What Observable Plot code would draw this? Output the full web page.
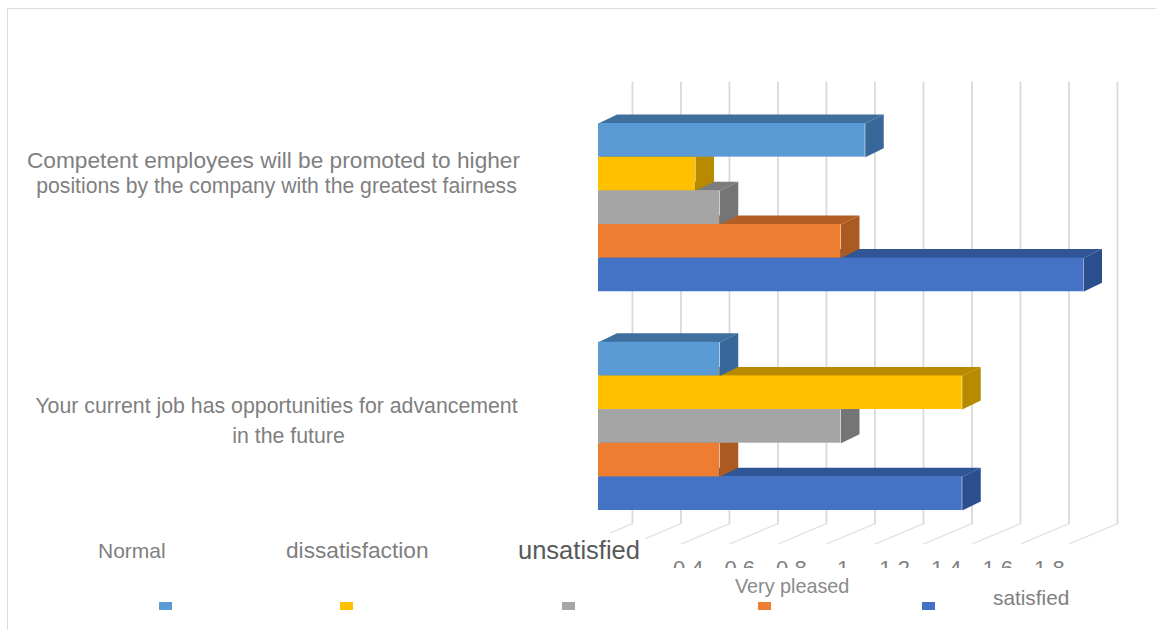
<!DOCTYPE html>
<html lang="en">
<head>
<meta charset="utf-8">
<title>Job satisfaction survey</title>
<script src="https://cdn.jsdelivr.net/npm/d3@7"></script>
<script src="https://cdn.jsdelivr.net/npm/@observablehq/plot@0.6"></script>
<style>
  html, body { margin: 0; padding: 0; background: #fff; }
  body { position: relative; width: 1156px; height: 630px; overflow: hidden; font-family: "Liberation Sans", Arial, sans-serif; }
  #sheet { position: absolute; left: 7px; top: 8px; right: 0; bottom: 0; border-left: 1px solid #dcdcdc; border-top: 1px solid #dcdcdc; }
  #chart { position: absolute; left: 0; top: 0; }
  #chart svg { display: block; }
  .legend-label { position: absolute; white-space: nowrap; line-height: 1; }
  .legend-swatch { position: absolute; width: 13px; height: 8px; }
</style>
</head>
<body>
<div id="sheet"></div>
<div id="chart"></div>
<script>
// Survey answers, one list per response, in the order [promotion fairness, advancement outlook].
const seriesNames = ["Normal", "dissatisfaction", "unsatisfied", "Very pleased", "satisfied"];
const normalValues = [1.1, 0.5];
const dissatisfactionValues = [0.4, 1.5];
const unsatisfiedValues = [0.5, 1];
const veryPleasedValues = [1, 0.5];
const satisfiedValues = [2, 1.5];
const seriesValues = [normalValues, dissatisfactionValues, unsatisfiedValues, veryPleasedValues, satisfiedValues];

const gridValues = [0, 0.2, 0.4, 0.6, 0.8, 1, 1.2, 1.4, 1.6, 1.8, 2];
const tickLabels = [0.4, 0.6, 0.8, 1, 1.2, 1.4, 1.6, 1.8];

const frontColors = ["#5B9BD5", "#FFC000", "#A5A5A5", "#ED7D31", "#4472C4"];
const topColors = ["#3F6F9C", "#B88A00", "#7C7C7C", "#B25E24", "#2F5597"];
const sideColors = ["#38689A", "#B88A00", "#757575", "#AB5A22", "#2B4F8E"];

const questionLines = [
  {text: "Competent employees will be promoted to higher", group: 0, dx: -325, dy: -47, size: 22.7},
  {text: "positions by the company with the greatest fairness", group: 0, dx: -322, dy: -21, size: 21.2},
  {text: "Your current job has opportunities for advancement", group: 1, dx: -322, dy: -20, size: 21.3},
  {text: "in the future", group: 1, dx: -310, dy: 10, size: 21.3}
];

// Slot position of a bar: each question holds five bars with a gap of 1.5 bars between questions.
const slotsPerGroup = 6.5;
const slot = (group, series) => group * slotsPerGroup + series;

// Oblique projection of the chart's depth, in x units and bar slots.
const barDepthX = 0.0763, barDepthY = -0.267;
const wallDepthX = 0.14;
const floorDepthX = -0.198, floorDepthY = 0.6;
const wallTop = -1.22, wallBottom = 11.89;

// The value labels lie on the near edge of the floor, which projects slightly wider than the bars.
const labelSpread = 15.5, labelShift = 2;

const marks = [];

// Back wall gridlines and their run across the floor.
marks.push(Plot.line(gridValues.flatMap(v => [
  {v, x: v + wallDepthX, y: wallTop},
  {v, x: v + wallDepthX, y: wallBottom}
]), {x: "x", y: "y", z: "v", stroke: "#dadada", strokeWidth: 1.8}));

marks.push(Plot.line(gridValues.flatMap(v => [
  {v, x: v + wallDepthX, y: wallBottom},
  {v, x: v + wallDepthX + floorDepthX, y: wallBottom + floorDepthY}
]), {x: "x", y: "y", z: "v", stroke: "#e3e4de", strokeWidth: 1.4}));

// Bars paint from the bottom up so each one overlaps the top face of the bar below it.
[0, 1].forEach(group => {
  for (let s = seriesValues.length - 1; s >= 0; s--) {
    const value = seriesValues[s][group];
    const y1 = slot(group, s), y2 = y1 + 1;
    const topFace = [
      {x: 0, y: y1},
      {x: barDepthX, y: y1 + barDepthY},
      {x: value + barDepthX, y: y1 + barDepthY},
      {x: value, y: y1}
    ];
    const sideFace = [
      {x: value, y: y1},
      {x: value + barDepthX, y: y1 + barDepthY},
      {x: value + barDepthX, y: y2 + barDepthY},
      {x: value, y: y2}
    ];
    marks.push(Plot.line(topFace, {x: "x", y: "y", curve: "linear-closed", fill: topColors[s], stroke: "none"}));
    marks.push(Plot.line(sideFace, {x: "x", y: "y", curve: "linear-closed", fill: sideColors[s], stroke: "none"}));
    marks.push(Plot.rect([{value, y1, y2}], {x1: 0, x2: "value", y1: "y1", y2: "y2", fill: frontColors[s]}));
  }
});

// Value labels sit right at the lower frame edge and are cut off by it.
tickLabels.forEach(v => {
  marks.push(Plot.text([v], {
    x: d => d,
    text: d => String(d),
    frameAnchor: "bottom",
    lineAnchor: "top",
    dx: (v - 1) * labelSpread + labelShift,
    dy: -8,
    fontSize: 22,
    fill: "#7f7f7f",
    clip: true
  }));
});

// Question captions, left of the bars.
questionLines.forEach(line => {
  marks.push(Plot.text([line.text], {
    y: () => slot(line.group, 2.5),
    text: d => d,
    frameAnchor: "left",
    textAnchor: "middle",
    dx: line.dx,
    dy: line.dy,
    fontSize: line.size,
    fill: "#7f7f7f"
  }));
});

const chart = Plot.plot({
  width: 1156,
  height: 630,
  marginLeft: 598,
  marginRight: 0,
  marginTop: 0,
  marginBottom: 62,
  style: {background: "transparent", fontFamily: '"Liberation Sans", Arial, sans-serif'},
  x: {domain: [0, 2], range: [598, 1083], axis: null},
  y: {domain: [0, 11.5], range: [123, 510], axis: null},
  marks
});
document.getElementById("chart").append(chart);

// Legend entries are scattered around the lower edge, with each swatch apart from its label.
const legendEntries = [
  {left: 98, top: 540, size: 21, color: "#7f7f7f", swatch: 159},
  {left: 286, top: 539, size: 22.7, color: "#7f7f7f", swatch: 340},
  {left: 518, top: 538, size: 25.5, color: "#595959", swatch: 562, backing: true},
  {left: 735, top: 577, size: 19.8, color: "#8a8a8a", swatch: 758},
  {left: 993, top: 588, size: 20.8, color: "#7f7f7f", swatch: 922}
];
legendEntries.forEach((entry, i) => {
  const label = document.createElement("div");
  label.className = "legend-label";
  label.textContent = seriesNames[i];
  label.style.cssText = `left:${entry.left}px;top:${entry.top}px;font-size:${entry.size}px;color:${entry.color}`;
  if (entry.backing) {
    // This label has a white plate that hides the floor lines behind it.
    label.style.top = `${entry.top - 5}px`;
    label.style.padding = "5px 5px 0 0";
    label.style.background = "#fff";
  }
  document.body.append(label);
  const swatch = document.createElement("div");
  swatch.className = "legend-swatch";
  swatch.style.cssText = `left:${entry.swatch}px;top:602px;background:${frontColors[i]}`;
  document.body.append(swatch);
});
</script>
</body>
</html>
